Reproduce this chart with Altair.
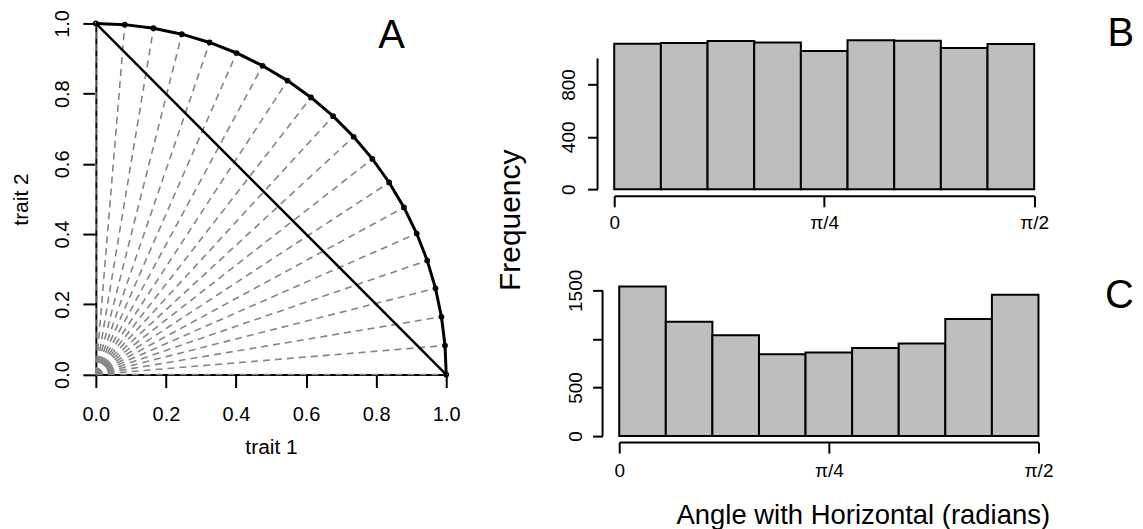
import math
import altair as alt
import pandas as pd

FONT = "Liberation Sans"

# ---------------- data ----------------
# Panel A: directions (degrees) of the sampled points on the unit quarter circle
angles_deg = [0.0, 4.74, 9.47, 14.21, 18.95, 23.68, 28.42, 33.16, 37.89, 42.63,
              47.37, 52.11, 56.84, 61.58, 66.32, 71.05, 75.79, 80.53, 85.26, 90.0]
diag_x = [0.0, 1.0]
diag_y = [1.0, 0.0]
a_ticks = [0.0, 0.2, 0.4, 0.6, 0.8, 1.0]

# Panels B and C: histograms of angles with the horizontal
bin_edges_deg = [0, 10, 20, 30, 40, 50, 60, 70, 80, 90]
counts_B = [1112, 1117, 1133, 1122, 1056, 1138, 1135, 1079, 1110]
counts_C = [1541, 1178, 1038, 842, 860, 908, 952, 1205, 1455]
b_yticks = [0, 200, 400, 600, 800, 1000]
b_ylabels = [0, 400, 800]
c_yticks = [0, 500, 1000, 1500]
c_ylabels = [0, 500, 1500]
hist_xticks = [0.0, math.pi / 4, math.pi / 2]
hist_xlabels = ["0", "π/4", "π/2"]

# ---------------- tables ----------------
rad = [math.radians(a) for a in angles_deg]
pts_df = pd.DataFrame({"deg": angles_deg,
                       "x": [math.cos(r) for r in rad],
                       "y": [math.sin(r) for r in rad]})
ray_rows = []
for i, r in enumerate(rad):
    ray_rows.append({"id": i, "ord": 0, "x": 0.0, "y": 0.0})
    ray_rows.append({"id": i, "ord": 1, "x": math.cos(r), "y": math.sin(r)})
rays_df = pd.DataFrame(ray_rows)
diag_df = pd.DataFrame({"x": diag_x, "y": diag_y})
one = pd.DataFrame({"k": [0]})

edges = [math.radians(e) for e in bin_edges_deg]
hist_B = pd.DataFrame({"x0": edges[:-1], "x1": edges[1:], "count": counts_B})
hist_C = pd.DataFrame({"x0": edges[:-1], "x1": edges[1:], "count": counts_C})

axis_style = dict(domainColor="black", domainWidth=2, tickColor="black", tickWidth=2,
                  labelColor="black", labelFont=FONT, titleFont=FONT,
                  titleFontWeight="normal", titleColor="black", grid=False,
                  labelOverlap=False, labelFlush=False)

# ---------------- panel A ----------------
sA = alt.Scale(domain=[0, 1], nice=False, zero=False)
xA = alt.X("x:Q", scale=sA, axis=alt.Axis(values=a_ticks, format=".1f", tickSize=13,
                                          labelFontSize=20, labelPadding=17,
                                          title="trait 1", titleFontSize=21, titlePadding=12,
                                          **axis_style))
yA = alt.Y("y:Q", scale=sA, axis=alt.Axis(values=a_ticks, format=".1f", tickSize=13,
                                          labelFontSize=20, labelAngle=270, labelAlign="center",
                                          labelBaseline="bottom", labelPadding=10,
                                          title="trait 2", titleFontSize=21, titlePadding=21.5,
                                          **axis_style))

rays = alt.Chart(rays_df).mark_line(color="#858585", strokeWidth=1.6, strokeDash=[7, 5]).encode(
    x=xA, y=yA, detail="id:N", order="ord:Q")
arc = alt.Chart(pts_df).mark_line(color="black", strokeWidth=3).encode(
    x="x:Q", y="y:Q", order="deg:Q")
diag = alt.Chart(diag_df).mark_line(color="black", strokeWidth=2.5).encode(x="x:Q", y="y:Q")
pts = alt.Chart(pts_df).mark_point(shape="circle", filled=False, color="black", size=18,
                                   strokeWidth=1.5, opacity=1).encode(x="x:Q", y="y:Q")
labA = alt.Chart(one).mark_text(text="A", font=FONT, fontSize=40, color="black",
                                baseline="middle", align="center").encode(
    x=alt.datum(0.844), y=alt.datum(0.964))
panelA = alt.layer(rays, arc, diag, pts, labA).properties(width=351, height=351.7)

lab_expr = " : ".join(
    [f"abs(datum.value - {v}) < 1e-6 ? '{t}'" for v, t in zip(hist_xticks, hist_xlabels)]) + " : ''"


def ylab_expr(keep):
    return " || ".join([f"datum.value == {v}" for v in keep]) + " ? datum.label : ''"


# ---------------- panel B ----------------
sxB = alt.Scale(domain=[0, math.pi / 2], nice=False, zero=False)
syB = alt.Scale(domain=[0, 1267], nice=False, zero=False)
barsB = alt.Chart(hist_B).mark_bar(fill="#bebebe", stroke="black", strokeWidth=2).encode(
    x=alt.X("x0:Q", scale=sxB, axis=alt.Axis(values=hist_xticks, labelExpr=lab_expr, offset=6.7,
                                             tickSize=11, labelFontSize=19, labelPadding=7,
                                             title=None, **axis_style)),
    x2="x1:Q",
    y=alt.Y("count:Q", scale=syB, axis=alt.Axis(values=b_yticks, labelExpr=ylab_expr(b_ylabels),
                                                format="d", domain=False, offset=16.7, tickSize=10,
                                                labelFontSize=19, labelAngle=270,
                                                labelAlign="center", labelBaseline="bottom",
                                                labelPadding=9,
                                                title="Frequency", titleFontSize=30,
                                                titleAngle=270, titleAlign="center",
                                                titleBaseline="middle",
                                                titleX=-87.3, titleY=196.7, **axis_style)),
    y2=alt.datum(0))
axisB = alt.Chart(one).mark_rule(color="black", strokeWidth=2).encode(
    x=alt.value(-16.7), y=alt.datum(b_yticks[0]), y2=alt.datum(b_yticks[-1]))
labB = alt.Chart(one).mark_text(text="B", font=FONT, fontSize=40, color="black",
                                baseline="middle", align="center").encode(
    x=alt.datum(1.895), y=alt.datum(1185))
panelB = alt.layer(barsB, axisB, labB).properties(width=420.7, height=166)

# ---------------- panel C ----------------
sxC = alt.Scale(domain=[0, math.pi / 2], nice=False, zero=False, range=[5, 425])
syC = alt.Scale(domain=[0, 1602.8], nice=False, zero=False)
barsC = alt.Chart(hist_C).mark_bar(fill="#bebebe", stroke="black", strokeWidth=2).encode(
    x=alt.X("x0:Q", scale=sxC, axis=alt.Axis(values=hist_xticks, labelExpr=lab_expr, offset=6,
                                             tickSize=11, labelFontSize=19, labelPadding=8,
                                             title="Angle with Horizontal (radians)",
                                             titleFontSize=27.5, titleX=249, titleY=82,
                                             titleAlign="center", titleBaseline="alphabetic",
                                             **axis_style)),
    x2="x1:Q",
    y=alt.Y("count:Q", scale=syC, axis=alt.Axis(values=c_yticks, labelExpr=ylab_expr(c_ylabels),
                                                format="d", domain=False, offset=11.7, tickSize=10,
                                                labelFontSize=19, labelAngle=270,
                                                labelAlign="center", labelBaseline="bottom",
                                                labelPadding=7, title=None, **axis_style)),
    y2=alt.datum(0))
axisC = alt.Chart(one).mark_rule(color="black", strokeWidth=2).encode(
    x=alt.value(-11.7), y=alt.datum(c_yticks[0]), y2=alt.datum(c_yticks[-1]))
labC = alt.Chart(one).mark_text(text="C", font=FONT, fontSize=40, color="black",
                                baseline="middle", align="center").encode(
    x=alt.datum(1.874), y=alt.datum(1440))
panelC = alt.layer(barsC, axisC, labC).properties(width=425, height=156)

right = alt.vconcat(panelB, panelC, spacing=91.4, bounds="flush")
chart = alt.hconcat(panelA, right, spacing=168.3, bounds="flush").configure_view(
    stroke=None).properties(padding={"left": 2, "top": 1, "right": 0, "bottom": 0})

chart.save("out.html", embed_options={"renderer": "svg", "actions": False})
